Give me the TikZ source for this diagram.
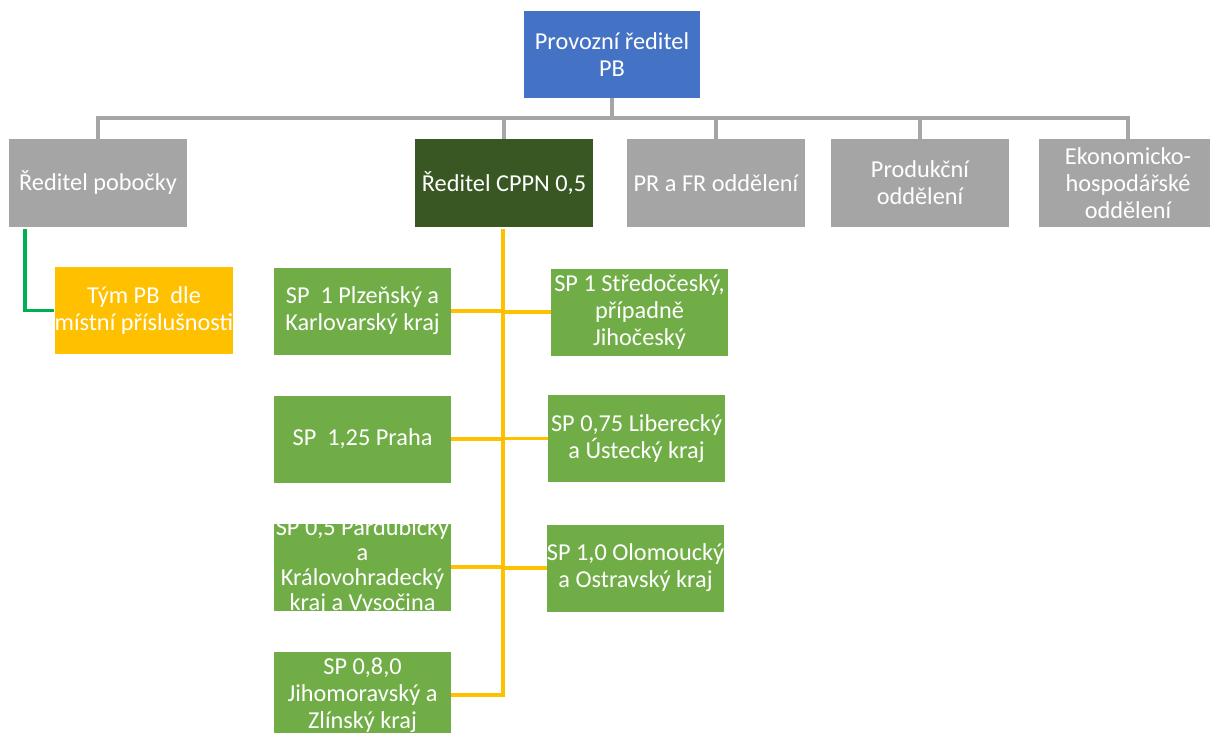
\documentclass[tikz,border=0pt]{standalone}
\usepackage{fontspec}
\setmainfont{Carlito}
\definecolor{cblue}{HTML}{4472C4}
\definecolor{cgray}{HTML}{A5A5A5}
\definecolor{cdark}{HTML}{385723}
\definecolor{cgreen}{HTML}{70AD47}
\definecolor{cyellow}{HTML}{FFC000}
\definecolor{cline}{HTML}{00B050}
\newcommand{\fsz}{\fontsize{24.3}{26.8}\selectfont}
\tikzset{
  box/.style={rectangle, inner sep=0pt, minimum width=178pt, minimum height=87pt, align=center, text=white, font=\fsz},
  grayline/.style={draw=cgray, line width=3.2pt},
  yline/.style={draw=cyellow, line width=3.2pt},
  gline/.style={draw=cline, line width=3.2pt},
}
\begin{document}
\begin{tikzpicture}[x=1pt,y=-1pt]
\useasboundingbox (0,0) rectangle (1210,733);
\clip (0,0) rectangle (1210,733);
% top
\node[box, fill=cblue, minimum width=176pt] (top) at (612,54.5) {Provozní ředitel\\PB};
% row 2
\node[box, fill=cgray] (rp) at (98,183) {Ředitel pobočky};
\node[box, fill=cdark] (cppn) at (504,183) {Ředitel CPPN 0,5};
\node[box, fill=cgray] (pr) at (716,183) {PR a FR oddělení};
\node[box, fill=cgray] (prod) at (920,183) {Produkční\\oddělení};
\node[box, fill=cgray] (eko) at (1128,183) {Ekonomicko-\\hospodářské\\oddělení};
% gray connectors
\coordinate (bus) at (612,118);
\draw[grayline] (top.south) -- (bus);
\draw[grayline] (bus) -| (rp.north);
\draw[grayline] (bus) -| (cppn.north);
\draw[grayline] (bus) -| (pr.north);
\draw[grayline] (bus) -| (prod.north);
\draw[grayline] (bus) -| (eko.north);
% team
\node[box, fill=cyellow] (tym) at (144,310.5) {Tým PB\ \ dle\\místní příslušnosti};
\coordinate (gstart) at (25,229);
\draw[gline] (gstart) |- (tym.west);
% left column
\node[box, fill=cgreen, minimum width=177pt] (pl) at (362.5,311) {SP\ \ 1 Plzeňský a\\Karlovarský kraj};
\node[box, fill=cgreen, minimum width=177pt] (praha) at (362.5,439) {SP\ \ 1,25 Praha};
\node[box, fill=cgreen, minimum width=177pt, path picture={
  \node[align=center, text=white, font=\fontsize{24.3}{25}\selectfont] at (path picture bounding box.center) {SP 0,5 Pardubický\\a\\Královohradecký\\kraj a Vysočina};
}] (pard) at (362.5,567) {};
\node[box, fill=cgreen, minimum width=177pt] (jm) at (362.5,695) {SP 0,8,0\\Jihomoravský a\\Zlínský kraj};
% right column
\node[box, fill=cgreen, minimum width=177pt] (st) at (639.5,312) {SP 1 Středočeský,\\případně\\Jihočeský};
\node[box, fill=cgreen, minimum width=177pt] (lib) at (636.5,438.5) {SP 0,75 Liberecký\\a Ústecký kraj};
\node[box, fill=cgreen, minimum width=177pt] (olo) at (635.5,568) {SP 1,0 Olomoucký\\a Ostravský kraj};
% yellow trunk
\coordinate (tr) at (503,229);
\draw[yline] (tr) |- (jm.east);
\draw[yline] (pl.east) -- (pl.east -| tr);
\draw[yline] (praha.east) -- (praha.east -| tr);
\draw[yline] (pard.east) -- (pard.east -| tr);
\draw[yline] (st.west -| tr) -- (st.west);
\draw[yline] (lib.west -| tr) -- (lib.west);
\draw[yline] (olo.west -| tr) -- (olo.west);
\end{tikzpicture}
\end{document}
